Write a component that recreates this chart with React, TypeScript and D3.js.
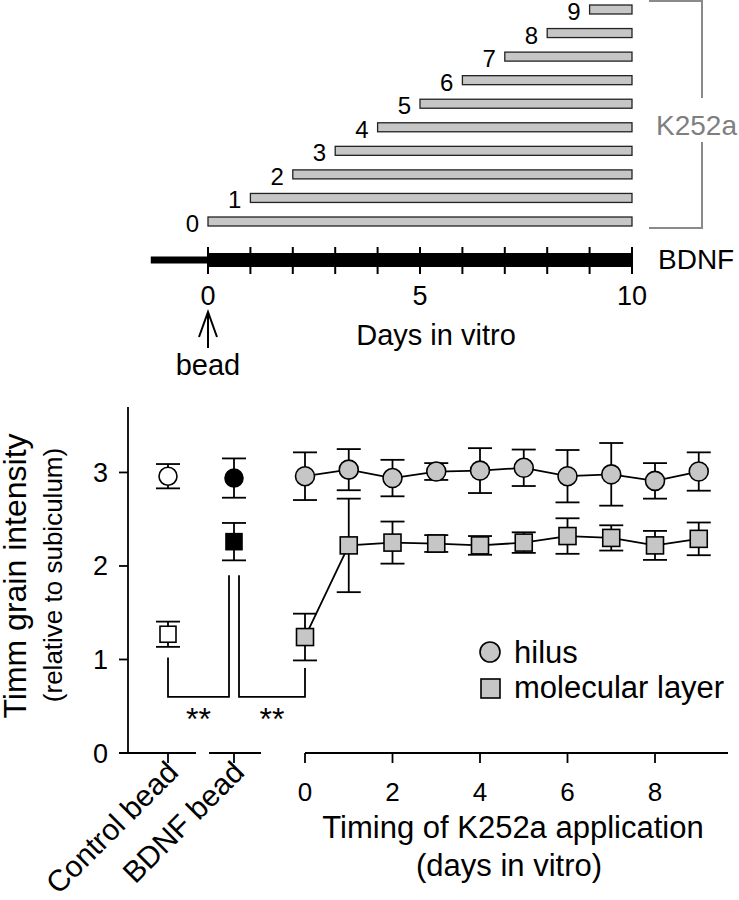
import React from 'react';
import * as d3 from 'd3';

const FONT = '"Liberation Sans", Arial, Helvetica, sans-serif';

// ---------- top schematic ----------
const k252aStartDays = [0, 1, 2, 3, 4, 5, 6, 7, 8, 9];
const bdnfTickDays = [0, 1, 2, 3, 4, 5, 6, 7, 8, 9, 10];
const bdnfTickLabels = [0, 5, 10];
const scheduleEnd = 10;
const preBeadStart = -1.35;

// ---------- bottom chart ----------
const beadCategories = ['Control bead', 'BDNF bead'];
const beadHilusMean = [2.96, 2.94];
const beadHilusSem = [0.13, 0.21];
const beadMolMean = [1.27, 2.26];
const beadMolSem = [0.135, 0.2];
const beadFill = ['#ffffff', '#000000'];

const timingDays = [0, 1, 2, 3, 4, 5, 6, 7, 8, 9];
const hilusMean = [2.96, 3.03, 2.94, 3.01, 3.02, 3.05, 2.96, 2.98, 2.91, 3.01];
const hilusSem = [0.255, 0.22, 0.195, 0.09, 0.24, 0.195, 0.28, 0.335, 0.19, 0.205];
const molMean = [1.24, 2.22, 2.25, 2.24, 2.22, 2.25, 2.32, 2.3, 2.22, 2.29];
const molSem = [0.25, 0.5, 0.225, 0.09, 0.1, 0.11, 0.19, 0.135, 0.155, 0.175];

const yTicks = [0, 1, 2, 3];
const timingTicks = [0, 2, 4, 6, 8];
const sigLevel = 0.6;
const sigTops = [[1.02, 1.9], [1.9, 0.91]];
const legendLabels = ['hilus', 'molecular layer'];

const GRAY = '#c6c6c6';

export default function App() {
  // top scales
  const xTop = d3.scaleLinear().domain([0, 10]).range([208, 632]);
  const yTop = d3.scaleLinear().domain([0, 9]).range([221.5, 9.5]);

  // bottom scales
  const yB = d3.scaleLinear().domain([0, 3.7]).range([753, 407]);
  const xCat = d3.scalePoint<string>().domain(beadCategories).range([168, 234]);
  const xT = d3.scaleLinear().domain([0, 8]).range([305, 655]);

  const line = d3
    .line<number>()
    .x((_, i) => xT(timingDays[i]))
    .y((d) => yB(d));

  const cap = 12;
  const errBar = (x: number, m: number, s: number, key: string) => (
    <g key={key} stroke="#000" strokeWidth={1.8}>
      <line x1={x} x2={x} y1={yB(m + s)} y2={yB(m - s)} />
      <line x1={x - cap} x2={x + cap} y1={yB(m + s)} y2={yB(m + s)} />
      <line x1={x - cap} x2={x + cap} y1={yB(m - s)} y2={yB(m - s)} />
    </g>
  );
  const circle = (x: number, y: number, fill: string, key: string, r = 9.5) => (
    <circle key={key} cx={x} cy={y} r={r} fill={fill} stroke="#000" strokeWidth={1.6} />
  );
  const square = (x: number, y: number, fill: string, key: string, s = 17) => (
    <rect key={key} x={x - s / 2} y={y - s / 2} width={s} height={s} fill={fill} stroke="#000" strokeWidth={1.6} />
  );

  const barH = 9;
  const bdnfY = 260;

  const catX = beadCategories.map((c) => xCat(c) as number);
  const sigX = [
    [catX[0], catX[1] - 5],
    [catX[1] + 5, xT(0)],
  ];

  return (
    <svg
      width={739}
      height={900}
      style={{ position: 'absolute', left: 0, top: 0, background: '#fff' }}
      fontFamily={FONT}
    >
      <rect x={0} y={0} width={739} height={900} fill="#fff" />
      {/* ---------- top schematic ---------- */}
      {k252aStartDays.map((d, i) => (
        <g key={'kb' + i}>
          <rect
            x={xTop(d)}
            y={yTop(i) - barH / 2}
            width={xTop(scheduleEnd) - xTop(d)}
            height={barH}
            fill={GRAY}
            stroke="#222"
            strokeWidth={1.3}
          />
          <text x={xTop(d) - 9} y={yTop(i) + 10.5} fontSize={24} textAnchor="end" fill="#000">
            {d}
          </text>
        </g>
      ))}
      {/* K252a bracket */}
      <g stroke="#8a8a8a" strokeWidth={2} fill="none">
        <polyline points={`649,${yTop(9) - 8.5} 702,${yTop(9) - 8.5} 702,98`} />
        <polyline points={`702,142 702,${yTop(0) + 6.5} 649,${yTop(0) + 6.5}`} />
      </g>
      <text x={656} y={135} fontSize={28} fill="#7f7f7f">
        K252a
      </text>

      {/* BDNF bar */}
      <line x1={xTop(preBeadStart)} x2={xTop(0)} y1={bdnfY} y2={bdnfY} stroke="#000" strokeWidth={7} />
      <rect x={xTop(0)} y={bdnfY - 7} width={xTop(scheduleEnd) - xTop(0)} height={14} fill="#000" />
      {bdnfTickDays.map((d) => (
        <line key={'bt' + d} x1={xTop(d)} x2={xTop(d)} y1={bdnfY - 13} y2={bdnfY + 14} stroke="#000" strokeWidth={2} />
      ))}
      <text x={658} y={269} fontSize={28}>
        BDNF
      </text>
      {bdnfTickLabels.map((d) => (
        <text key={'bl' + d} x={xTop(d)} y={305} fontSize={27} textAnchor="middle">
          {d}
        </text>
      ))}
      <text x={436} y={345} fontSize={29} textAnchor="middle">
        Days in vitro
      </text>
      {/* bead arrow */}
      <g stroke="#000" strokeWidth={2} fill="none">
        <line x1={xTop(0)} x2={xTop(0)} y1={312} y2={348} />
        <polyline points={`${xTop(0) - 9},337 ${xTop(0)},312 ${xTop(0) + 9},337`} />
      </g>
      <text x={xTop(0)} y={375} fontSize={29} textAnchor="middle">
        bead
      </text>

      {/* ---------- bottom chart ---------- */}
      {/* y axis */}
      <line x1={128} x2={128} y1={yB(3.7)} y2={yB(0)} stroke="#000" strokeWidth={1.8} />
      {yTicks.map((t) => (
        <g key={'yt' + t}>
          <line x1={119} x2={128} y1={yB(t)} y2={yB(t)} stroke="#000" strokeWidth={1.8} />
          <text x={108} y={yB(t) + 9.5} fontSize={27} textAnchor="end">
            {t}
          </text>
        </g>
      ))}
      <text transform={`translate(26,576) rotate(-90)`} fontSize={32} textAnchor="middle">
        Timm grain intensity
      </text>
      <text transform={`translate(62,575) rotate(-90)`} fontSize={26} textAnchor="middle">
        (relative to subiculum)
      </text>

      {/* x axis segments */}
      <g stroke="#000" strokeWidth={1.8}>
        <line x1={119} x2={196} y1={yB(0)} y2={yB(0)} />
        <line x1={209} x2={261} y1={yB(0)} y2={yB(0)} />
        <line x1={xT(0)} x2={728} y1={yB(0)} y2={yB(0)} />
        {catX.map((x, i) => (
          <line key={'ct' + i} x1={x} x2={x} y1={yB(0)} y2={yB(0) + 10} />
        ))}
        {timingTicks.map((t) => (
          <line key={'tt' + t} x1={xT(t)} x2={xT(t)} y1={yB(0)} y2={yB(0) + 10} />
        ))}
      </g>
      {timingTicks.map((t) => (
        <text key={'tl' + t} x={xT(t)} y={801} fontSize={26} textAnchor="middle">
          {t}
        </text>
      ))}
      {beadCategories.map((c, i) => (
        <text
          key={'cl' + i}
          transform={`translate(${catX[i] + 12},774) rotate(-45)`}
          fontSize={30}
          textAnchor="end"
        >
          {c}
        </text>
      ))}
      <text x={513} y={838} fontSize={31} textAnchor="middle">
        Timing of K252a application
      </text>
      <text x={509} y={876} fontSize={31} textAnchor="middle">
        (days in vitro)
      </text>

      {/* significance brackets */}
      <g stroke="#000" strokeWidth={1.8} fill="none">
        {sigX.map((xs, i) => (
          <polyline
            key={'sg' + i}
            points={`${xs[0]},${yB(sigTops[i][0])} ${xs[0]},${yB(sigLevel)} ${xs[1]},${yB(sigLevel)} ${xs[1]},${yB(sigTops[i][1])}`}
          />
        ))}
      </g>
      {sigX.map((xs, i) => (
        <text key={'st' + i} x={(xs[0] + xs[1]) / 2} y={730} fontSize={32} textAnchor="middle">
          **
        </text>
      ))}

      {/* connecting lines */}
      <path d={line(hilusMean) || ''} fill="none" stroke="#000" strokeWidth={1.8} />
      <path d={line(molMean) || ''} fill="none" stroke="#000" strokeWidth={1.8} />

      {/* error bars */}
      {beadCategories.map((c, i) => errBar(catX[i], beadHilusMean[i], beadHilusSem[i], 'beh' + i))}
      {beadCategories.map((c, i) => errBar(catX[i], beadMolMean[i], beadMolSem[i], 'bem' + i))}
      {timingDays.map((d, i) => errBar(xT(d), hilusMean[i], hilusSem[i], 'eh' + i))}
      {timingDays.map((d, i) => errBar(xT(d), molMean[i], molSem[i], 'em' + i))}

      {/* markers */}
      {beadCategories.map((c, i) => circle(catX[i], yB(beadHilusMean[i]), beadFill[i], 'bch' + i, 9))}
      {beadCategories.map((c, i) => square(catX[i], yB(beadMolMean[i]), beadFill[i], 'bsm' + i, 16))}
      {timingDays.map((d, i) => circle(xT(d), yB(hilusMean[i]), GRAY, 'ch' + i))}
      {timingDays.map((d, i) => square(xT(d), yB(molMean[i]), GRAY, 'sm' + i))}

      {/* legend */}
      {circle(490, 652, GRAY, 'lg0', 10)}
      {square(490.5, 688.5, GRAY, 'lg1', 19)}
      <text x={514} y={663} fontSize={31}>
        {legendLabels[0]}
      </text>
      <text x={514} y={698} fontSize={31}>
        {legendLabels[1]}
      </text>
    </svg>
  );
}
